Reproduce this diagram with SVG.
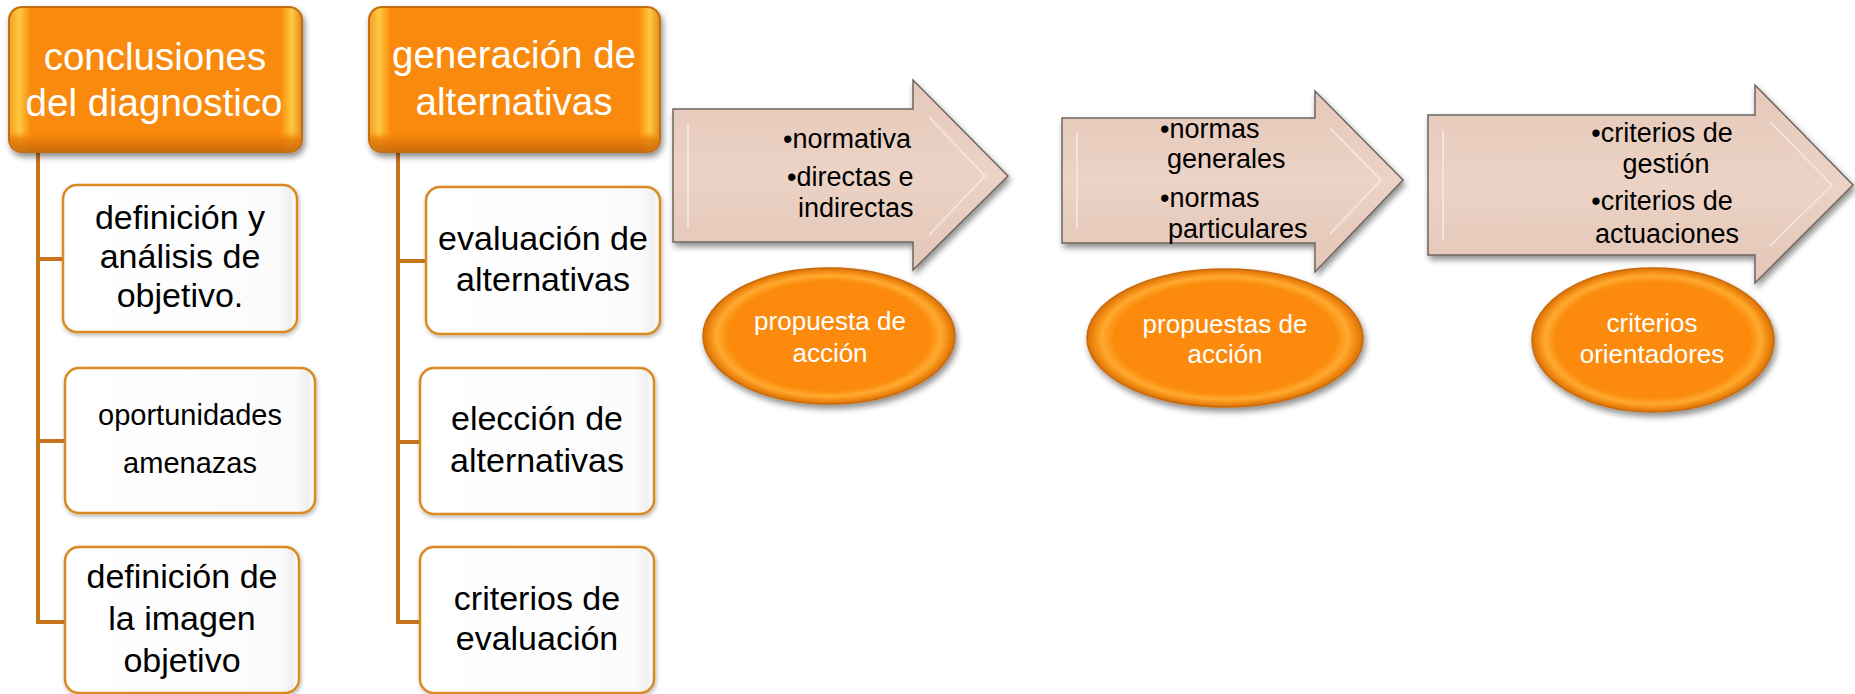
<svg xmlns="http://www.w3.org/2000/svg" width="1855" height="694" viewBox="0 0 1855 694">
<defs>
<filter id="sh" x="-10%" y="-10%" width="125%" height="130%">
<feGaussianBlur in="SourceAlpha" stdDeviation="3"/>
<feOffset dx="2" dy="4" result="b"/>
<feComponentTransfer><feFuncA type="linear" slope="0.45"/></feComponentTransfer>
<feMerge><feMergeNode/><feMergeNode in="SourceGraphic"/></feMerge>
</filter>
<filter id="sh2" x="-10%" y="-10%" width="125%" height="130%">
<feGaussianBlur in="SourceAlpha" stdDeviation="2"/>
<feOffset dx="1" dy="2" result="b"/>
<feComponentTransfer><feFuncA type="linear" slope="0.3"/></feComponentTransfer>
<feMerge><feMergeNode/><feMergeNode in="SourceGraphic"/></feMerge>
</filter>
<linearGradient id="hdrH" x1="0" y1="0" x2="1" y2="0">
<stop offset="0" stop-color="#F39A28"/>
<stop offset="0.035" stop-color="#FFC93F"/>
<stop offset="0.075" stop-color="#F98A0A"/>
<stop offset="0.925" stop-color="#F98A0A"/>
<stop offset="0.965" stop-color="#FFC93F"/>
<stop offset="1" stop-color="#E08A20"/>
</linearGradient>
<linearGradient id="hdrV" x1="0" y1="0" x2="0" y2="1">
<stop offset="0" stop-color="#F98A0A" stop-opacity="0"/>
<stop offset="0.86" stop-color="#F98A0A" stop-opacity="0"/>
<stop offset="0.92" stop-color="#E67A05" stop-opacity="0.8"/>
<stop offset="1" stop-color="#C9690A" stop-opacity="0.9"/>
</linearGradient>
<linearGradient id="boxG" x1="0" y1="0" x2="1" y2="0">
<stop offset="0" stop-color="#FFFFFF"/>
<stop offset="0.92" stop-color="#FBFBFB"/>
<stop offset="0.97" stop-color="#EFEFEF"/>
<stop offset="1" stop-color="#FFFFFF"/>
</linearGradient>
<radialGradient id="ellG" cx="0.5" cy="0.5" r="0.5">
<stop offset="0" stop-color="#FB8A0A"/>
<stop offset="0.8" stop-color="#FB8A0A"/>
<stop offset="0.89" stop-color="#FFAA30"/>
<stop offset="0.95" stop-color="#F28A12"/>
<stop offset="1" stop-color="#D57208"/>
</radialGradient>
<linearGradient id="arrG" x1="0" y1="0" x2="0" y2="1">
<stop offset="0" stop-color="#E5C8B9"/>
<stop offset="0.5" stop-color="#ECD3C5"/>
<stop offset="1" stop-color="#E3C6B7"/>
</linearGradient>
</defs>
<style>
.hdr{fill:url(#hdrH);stroke:#C46E0C;stroke-width:2;filter:url(#sh)}
.hdrv{fill:url(#hdrV);stroke:none}
.box{fill:url(#boxG);stroke:#D98A22;stroke-width:2.5;filter:url(#sh2)}
.arr{fill:url(#arrG);stroke:#6E6560;stroke-width:1.5;filter:url(#sh)}
.arrin{fill:none;stroke:#FAF1EC;stroke-width:2;opacity:0.6}
.ell{fill:url(#ellG);stroke:#C8690A;stroke-width:1.5;filter:url(#sh)}
.conn{fill:none;stroke:#C8741C;stroke-width:4}
.th{font-family:"Liberation Sans",Arial,sans-serif;font-size:38.5px;fill:#FFFFFF;text-anchor:middle}
.tb{font-family:"Liberation Sans",Arial,sans-serif;font-size:34px;fill:#000000;text-anchor:middle}
.ta{font-family:"Liberation Sans",Arial,sans-serif;font-size:27px;fill:#000000}
.te{font-family:"Liberation Sans",Arial,sans-serif;font-size:26px;fill:#FFFFFF;text-anchor:middle}
</style>

<g id="connectors">
<path class="conn" d="M38,152 V622 M36,259 H63 M36,441 H65 M36,622 H65"/>
<path class="conn" d="M398,152 V622 M396,261 H426 M396,442 H420 M396,622 H420"/>
</g>

<g id="hdr1">
<rect class="hdr" x="9" y="7" width="293" height="145" rx="13"/>
<rect class="hdrv" x="10" y="8" width="291" height="143" rx="12"/>
<text class="th" x="155" y="70">conclusiones</text>
<text class="th" x="154" y="116">del diagnostico</text>
</g>

<g id="hdr2">
<rect class="hdr" x="369" y="7" width="291" height="145" rx="13"/>
<rect class="hdrv" x="370" y="8" width="289" height="143" rx="12"/>
<text class="th" x="514" y="68">generación de</text>
<text class="th" x="514" y="115">alternativas</text>
</g>

<g id="box1a">
<rect class="box" x="63" y="185" width="234" height="147" rx="14"/>
<text class="tb" x="180" y="229">definición y</text>
<text class="tb" x="180" y="268">análisis de</text>
<text class="tb" x="180" y="307">objetivo.</text>
</g>
<g id="box1b">
<rect class="box" x="65" y="368" width="250" height="145" rx="14"/>
<text class="tb" style="font-size:29px" x="190" y="425">oportunidades</text>
<text class="tb" style="font-size:29px" x="190" y="473">amenazas</text>
</g>
<g id="box1c">
<rect class="box" x="65" y="547" width="234" height="146" rx="14"/>
<text class="tb" x="182" y="588">definición de</text>
<text class="tb" x="182" y="630">la imagen</text>
<text class="tb" x="182" y="672">objetivo</text>
</g>

<g id="box2a">
<rect class="box" x="426" y="187" width="234" height="147" rx="14"/>
<text class="tb" x="543" y="250">evaluación de</text>
<text class="tb" x="543" y="291">alternativas</text>
</g>
<g id="box2b">
<rect class="box" x="420" y="368" width="234" height="146" rx="14"/>
<text class="tb" x="537" y="430">elección de</text>
<text class="tb" x="537" y="472">alternativas</text>
</g>
<g id="box2c">
<rect class="box" x="420" y="547" width="234" height="146" rx="14"/>
<text class="tb" x="537" y="610">criterios de</text>
<text class="tb" x="537" y="650">evaluación</text>
</g>

<g id="arrow1">
<path class="arr" d="M673,109 H913 V80 L1008,176 L913,270 V242 H673 Z"/>
<path class="arrin" d="M688,124 V228 M929,117 L985,176 L929,235"/>
<text class="ta" x="783" y="148">•normativa</text>
<text class="ta" x="787" y="186">•directas e</text>
<text class="ta" x="798" y="217">indirectas</text>
</g>
<g id="ell1">
<ellipse class="ell" cx="829" cy="336" rx="126" ry="68"/>
<text class="te" x="830" y="330">propuesta de</text>
<text class="te" x="830" y="362">acción</text>
</g>

<g id="arrow2">
<path class="arr" d="M1062,118 H1315 V91 L1403,180 L1315,272 V243 H1062 Z"/>
<path class="arrin" d="M1077,133 V229 M1330,128 L1381,180 L1330,234"/>
<text class="ta" x="1160" y="138">•normas</text>
<text class="ta" x="1167" y="168">generales</text>
<text class="ta" x="1160" y="207">•normas</text>
<text class="ta" x="1168" y="238">particulares</text>
</g>
<g id="ell2">
<ellipse class="ell" cx="1225" cy="338" rx="138" ry="69"/>
<text class="te" x="1225" y="333">propuestas de</text>
<text class="te" x="1225" y="363">acción</text>
</g>

<g id="arrow3">
<path class="arr" d="M1428,115 H1755 V85 L1853,185 L1755,283 V255 H1428 Z"/>
<path class="arrin" d="M1443,130 V240 M1770,122 L1832,185 L1770,246"/>
<text class="ta" x="1662" y="142" text-anchor="middle">•criterios de</text>
<text class="ta" x="1666" y="173" text-anchor="middle">gestión</text>
<text class="ta" x="1662" y="210" text-anchor="middle">•criterios de</text>
<text class="ta" x="1667" y="243" text-anchor="middle">actuaciones</text>
</g>
<g id="ell3">
<ellipse class="ell" cx="1653" cy="340" rx="121" ry="72"/>
<text class="te" x="1652" y="332">criterios</text>
<text class="te" x="1652" y="363">orientadores</text>
</g>
</svg>
